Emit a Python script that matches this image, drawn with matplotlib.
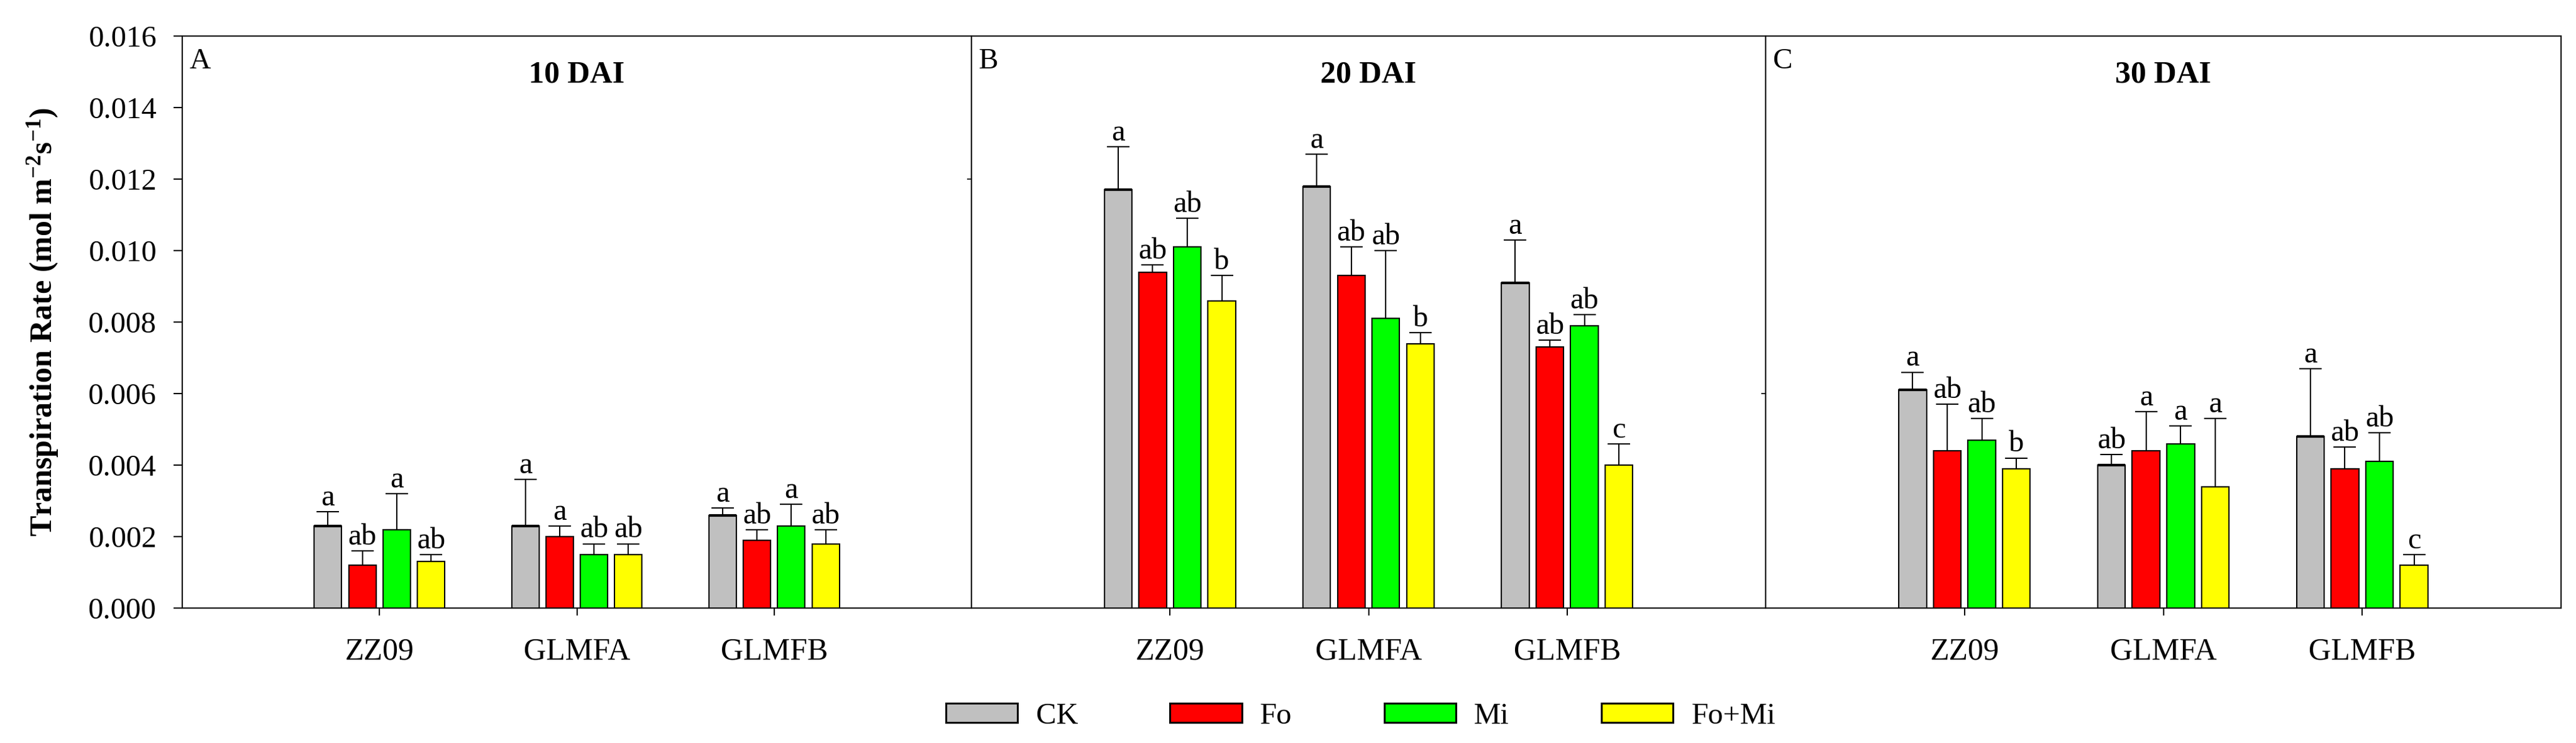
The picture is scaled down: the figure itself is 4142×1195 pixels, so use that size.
import numpy as np
import matplotlib
matplotlib.use("Agg")
import matplotlib.pyplot as plt
from matplotlib.patches import Patch

plt.rcParams['font.family'] = ['Liberation Serif', 'DejaVu Serif']
plt.rcParams['mathtext.fontset'] = 'custom'
plt.rcParams['mathtext.rm'] = 'Liberation Serif'
plt.rcParams['mathtext.bf'] = 'Liberation Serif:bold'
plt.rcParams['mathtext.default'] = 'bf'

cultivars = ["ZZ09", "GLMFA", "GLMFB"]
treatments = ["CK", "Fo", "Mi", "Fo+Mi"]
colors = ["#c0c0c0", "#ff0000", "#00ff00", "#ffff00"]
panels = ["A", "B", "C"]
titles = ["10 DAI", "20 DAI", "30 DAI"]

# means, rows = treatment (CK, Fo, Mi, Fo+Mi), cols = cultivar
mean_10 = [[0.0023, 0.0023, 0.0026],
           [0.0012, 0.0020, 0.0019],
           [0.0022, 0.0015, 0.0023],
           [0.0013, 0.0015, 0.0018]]
err_10 = [[0.0004, 0.0013, 0.0002],
          [0.0004, 0.0003, 0.0003],
          [0.0010, 0.0003, 0.0006],
          [0.0002, 0.0003, 0.0004]]
letters_10 = [["a", "a", "a"],
              ["ab", "a", "ab"],
              ["a", "ab", "a"],
              ["ab", "ab", "ab"]]

mean_20 = [[0.0117, 0.0118, 0.0091],
           [0.0094, 0.0093, 0.0073],
           [0.0101, 0.0081, 0.0079],
           [0.0086, 0.0074, 0.0040]]
err_20 = [[0.0012, 0.0009, 0.0012],
          [0.0002, 0.0008, 0.0002],
          [0.0008, 0.0019, 0.0003],
          [0.0007, 0.0003, 0.0006]]
letters_20 = [["a", "a", "a"],
              ["ab", "ab", "ab"],
              ["ab", "ab", "ab"],
              ["b", "b", "c"]]

mean_30 = [[0.0061, 0.0040, 0.0048],
           [0.0044, 0.0044, 0.0039],
           [0.0047, 0.0046, 0.0041],
           [0.0039, 0.0034, 0.0012]]
err_30 = [[0.0005, 0.0003, 0.0019],
          [0.0013, 0.0011, 0.0006],
          [0.0006, 0.0005, 0.0008],
          [0.0003, 0.0019, 0.0003]]
letters_30 = [["a", "ab", "a"],
              ["ab", "a", "ab"],
              ["ab", "a", "ab"],
              ["b", "a", "c"]]

means = [mean_10, mean_20, mean_30]
errs = [err_10, err_20, err_30]
letters = [letters_10, letters_20, letters_30]

W, H = 4142, 1195
fig = plt.figure(figsize=(W / 100, H / 100), dpi=100)
edges = [293, 1562, 2839, 4118]   # panel left/right pixel edges
bottom = 1 - 978 / H
h = (978 - 58) / H

x = np.arange(1, len(cultivars) + 1)
step = 0.174
bw = 0.139
stray = [None, 0.012, 0.006]

for p in range(3):
    ax = fig.add_axes([edges[p] / W, bottom, (edges[p + 1] - edges[p]) / W, h])
    for t in range(4):
        xs = x + (t - 1.5) * step
        ax.bar(xs, means[p][t], width=bw, color=colors[t], edgecolor="black",
               linewidth=1.5, zorder=2)
        if t == 0:
            ax.hlines(means[p][t], xs - bw / 2, xs + bw / 2, color="black",
                      linewidth=3, zorder=3)
        ax.errorbar(xs, means[p][t], yerr=[np.zeros(3), errs[p][t]], fmt="none",
                    ecolor="black", elinewidth=1.5, capsize=13, capthick=1.5, zorder=3)
        for i in range(3):
            ax.annotate(letters[p][t][i], (xs[i], means[p][t][i] + errs[p][t][i]),
                        xytext=(0, 0), textcoords="offset points",
                        ha="center", va="bottom", fontsize=35)
    ax.set_xlim(0, 4)
    ax.set_ylim(0, 0.016)
    ax.set_xticks(x)
    ax.set_xticklabels(cultivars, fontsize=36)
    ax.tick_params(axis="x", direction="out", length=8.6, width=1.5, pad=25)
    if p == 0:
        yt = np.arange(0, 0.0161, 0.002)
        ax.set_yticks(yt)
        ax.set_yticklabels(["%.3f" % v for v in yt])
        ax.tick_params(axis="y", direction="out", length=10, width=1.5, pad=20,
                       labelsize=35)
        ax.set_ylabel("Transpiration Rate (mol m$^{-2}$s$^{-1}$)", fontsize=36,
                      fontweight="bold", labelpad=32)
    else:
        ax.set_yticks([stray[p]])
        ax.set_yticklabels([])
        ax.tick_params(axis="y", direction="out", length=5, width=1.2)
    for s in ax.spines.values():
        s.set_linewidth(1.5)
    ax.text(0.009, 0.979, panels[p], transform=ax.transAxes, ha="left", va="top",
            fontsize=34)
    ax.text(2, 0.932 * 0.016, titles[p], ha="center", va="center", fontsize=36,
            fontweight="bold")

handles = [Patch(facecolor=c, edgecolor="black", linewidth=2.2) for c in colors]
fig.legend(handles, treatments, loc="center", bbox_to_anchor=(2188 / W, 1 - 1152 / H),
           ncol=4, frameon=False, fontsize=35, handlelength=2.37, handleheight=0.6,
           columnspacing=3.05, handletextpad=0.6, borderpad=0)

fig.savefig("out.png", dpi=100)
